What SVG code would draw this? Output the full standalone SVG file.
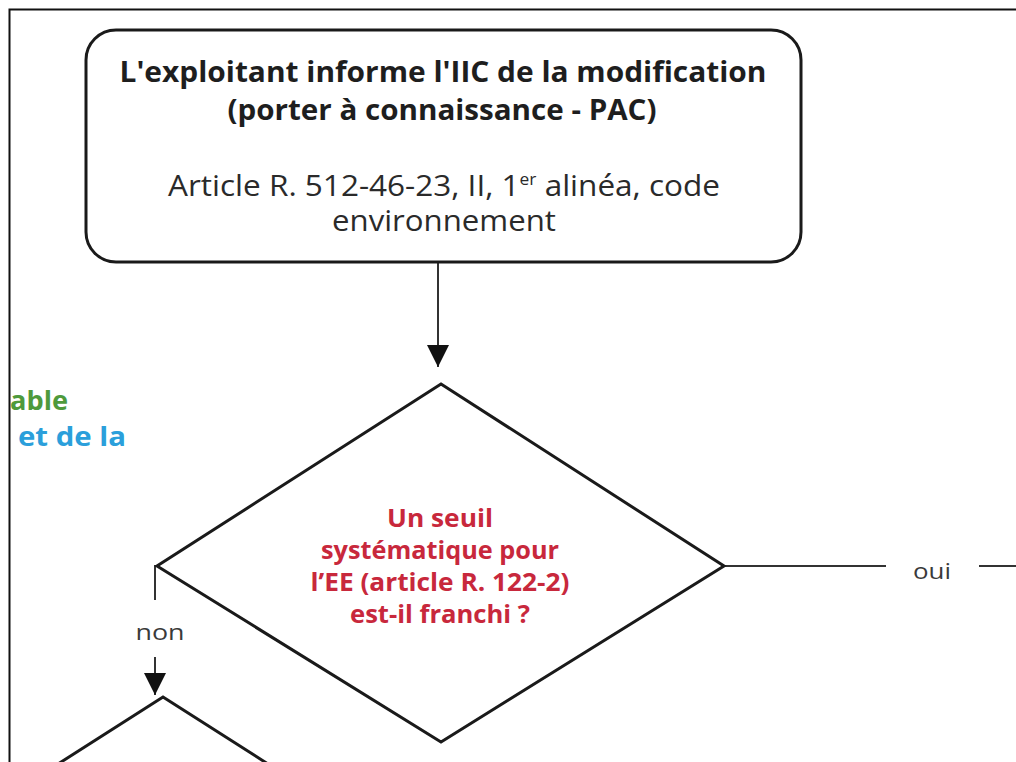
<svg xmlns="http://www.w3.org/2000/svg" width="1016" height="762" viewBox="0 0 1016 762">
  <style>
    .shape { fill: #ffffff; stroke: #1a1a1a; stroke-width: 3; }
    .conn { fill: none; stroke: #333333; stroke-width: 2; }
    .t { font-family: "Open Sans", "Liberation Sans", sans-serif; text-anchor: middle; }
    .title { font-size: 28px; font-weight: 700; fill: #1e1e1e; }
    .ref { font-size: 29px; font-weight: 400; fill: #2a2a2a; }
    .q { font-size: 25px; font-weight: 700; fill: #c8283c; }
    .lbl { font-size: 22px; font-weight: 400; fill: #3a3a3a; }
    .side { font-family: "Open Sans", "Liberation Sans", sans-serif; font-size: 27px; font-weight: 700; }
  </style>
  <defs>
    <marker id="arrowL" viewBox="0 0 10 10" refX="10" refY="5" markerWidth="22" markerHeight="22" markerUnits="userSpaceOnUse" orient="auto">
      <path d="M0,0 L10,5 L0,10 z" fill="#111111"/>
    </marker>
  </defs>

  <rect width="1016" height="762" fill="#ffffff"/>

  <!-- page frame -->
  <path d="M9.5,762 V9.5 H1016" fill="none" stroke="#111111" stroke-width="2"/>

  <!-- side legend fragments -->
  <text class="side" x="10" y="410" fill="#4e9a3c" textLength="58" lengthAdjust="spacingAndGlyphs">able</text>
  <text class="side" x="18" y="446" fill="#2b9fdb" textLength="108" lengthAdjust="spacingAndGlyphs">et de la</text>

  <g id="connectors">
    <line class="conn" x1="438" y1="262" x2="438" y2="367" marker-end="url(#arrowL)"/>
    <line class="conn" x1="155" y1="565" x2="155" y2="600"/>
    <line class="conn" x1="155" y1="657" x2="155" y2="695" marker-end="url(#arrowL)"/>
    <line class="conn" x1="725" y1="566" x2="886" y2="566"/>
    <line class="conn" x1="979" y1="566" x2="1016" y2="566"/>
    <text class="t lbl" x="160" y="640" textLength="49" lengthAdjust="spacingAndGlyphs">non</text>
    <text class="t lbl" x="932" y="579" textLength="38" lengthAdjust="spacingAndGlyphs">oui</text>
  </g>

  <g id="pac-box">
    <rect class="shape" x="86" y="30" width="715" height="232" rx="30" ry="30"/>
    <text class="t title" x="443" y="82" textLength="647" lengthAdjust="spacingAndGlyphs">L'exploitant informe l'IIC de la modification</text>
    <text class="t title" x="442" y="120" textLength="429" lengthAdjust="spacingAndGlyphs">(porter à connaissance - PAC)</text>
    <text class="t ref" x="444" y="196" textLength="552" lengthAdjust="spacingAndGlyphs">Article R. 512-46-23, II, 1<tspan font-size="16" dy="-11">er</tspan><tspan dy="11"> alinéa, code</tspan></text>
    <text class="t ref" x="444" y="231" textLength="224" lengthAdjust="spacingAndGlyphs">environnement</text>
  </g>

  <g id="seuil-decision">
    <polygon class="shape" points="441,384 724,566 441,742 157,566"/>
    <text class="t q" x="440" y="527" textLength="106" lengthAdjust="spacingAndGlyphs">Un seuil</text>
    <text class="t q" x="440" y="559" textLength="238" lengthAdjust="spacingAndGlyphs">systématique pour</text>
    <text class="t q" x="440" y="591" textLength="259" lengthAdjust="spacingAndGlyphs">l’EE (article R. 122-2)</text>
    <text class="t q" x="440" y="623" textLength="180" lengthAdjust="spacingAndGlyphs">est-il franchi ?</text>
  </g>

  <g id="next-decision">
    <polyline class="shape" points="58,764 163,697 268,764"/>
  </g>
</svg>
